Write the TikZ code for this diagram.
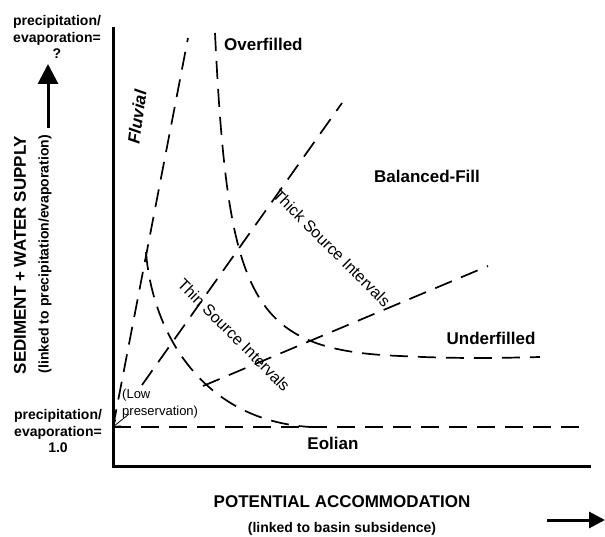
\documentclass[tikz,border=0pt]{standalone}
\usepackage{fontspec}
\setmainfont{Liberation Sans}
\usepackage{tikz}
\usetikzlibrary{arrows,arrows.meta}

\begin{document}
\begin{tikzpicture}[x=1pt,y=-1pt]
        \tikzstyle{every node}+=[inner sep=0pt]
        \tikzstyle{zone}=[font=\fontsize{17}{20}\selectfont\bfseries]
        \tikzstyle{ratio}=[font=\fontsize{14}{16.5}\selectfont\bfseries, align=center]
        \tikzstyle{interval}=[font=\fontsize{16}{19}\selectfont, rotate=-45]
        \tikzstyle{limit}=[black, line width=1.7pt, dash pattern=on 18pt off 10pt]
        \tikzstyle{axis}=[black, line width=3pt]
        \useasboundingbox (0,0) rectangle (605,537);
        \coordinate (origin) at (113,427);
        \coordinate (lowtail) at (129,414);
        \coordinate (uptail) at (48,128);
        \coordinate (uptip) at (48,64);
        \coordinate (righttail) at (547,520);
        \coordinate (righttip) at (605,520);
        % axes
        \draw [axis, line join=miter] (113,27) -- (113,466) -- (591,466);
        % field boundaries
        \draw [limit] (origin) -- (579,427);
        \draw [limit] (origin) -- (188,38);
        \draw [limit] (215,33) .. controls (228,300) and (250,350) .. (400,356)
                .. controls (460,359) and (500,358) .. (540,357);
        \draw [limit] (142,385) -- (342,103);
        \draw [limit] (146,252) .. controls (152,330) and (200,420) .. (310,427);
        \draw [limit] (203,386) -- (488,266);
        % field names
        \node [zone, anchor=west] (overfilled) at (224,44) {Overfilled};
        \node [zone] (balanced) at (427,176) {Balanced-Fill};
        \node [zone] (underfilled) at (491,338) {Underfilled};
        \node [zone] (eolian) at (333,443) {Eolian};
        \node [zone, font=\fontsize{17}{20}\selectfont\bfseries\itshape, rotate=82] (fluvial) at (137,117) {Fluvial};
        \node [interval] (thick) at (332,248) {Thick Source Intervals};
        \node [interval] (thin) at (234,335) {Thin Source Intervals};
        \node [font=\fontsize{13}{17}\selectfont, align=left, anchor=west] (low) at (122,404) {(Low\\preservation)};
        \draw [black, line width=0.8pt, -{Straight Barb[length=6pt,width=8pt]}] (lowtail) -- (origin);
        % axis titles
        \node [ratio] (top ratio) at (57,37) {precipitation/\\evaporation=\\?};
        \node [ratio] (base ratio) at (58,431) {precipitation/\\evaporation=\\1.0};
        \node [zone, rotate=90] (supply) at (20,255) {SEDIMENT + WATER SUPPLY};
        \node [ratio, rotate=90] (supply note) at (45,254) {(linked to precipitation/evaporation)};
        \node [zone] (accommodation) at (342,502) {POTENTIAL ACCOMMODATION};
        \node [ratio] (accommodation note) at (342,529) {(linked to basin subsidence)};
        \draw [axis, -{Triangle[length=20pt,width=20pt]}] (uptail) -- (uptip);
        \draw [axis, -{Triangle[length=16pt,width=16pt]}] (righttail) -- (righttip);
\end{tikzpicture}
\end{document}
